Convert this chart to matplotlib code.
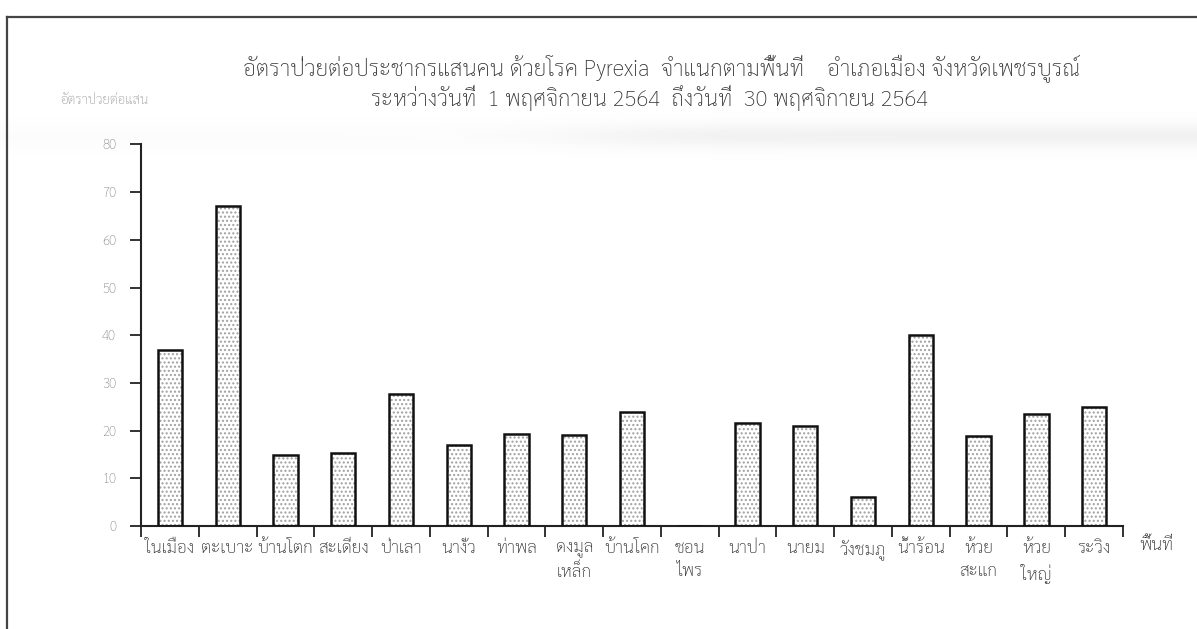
import matplotlib
matplotlib.use("Agg")
import matplotlib.pyplot as plt
import numpy as np
from matplotlib.lines import Line2D

plt.rcParams['font.family'] = ['Sarabun', 'DejaVu Sans']
plt.rcParams['font.weight'] = 'light'

# อัตราป่วยต่อประชากรแสนคน แยกตามตำบล อ.เมืองเพชรบูรณ์
areas = ["ในเมือง", "ตะเบาะ", "บ้านโตก", "สะเดียง", "ป่าเลา", "นางั่ว", "ท่าพล",
         "ดงมูล\nเหล็ก", "บ้านโคก", "ชอน\nไพร", "นาป่า", "นายม", "วังชมภู",
         "น้ำร้อน", "ห้วย\nสะแก", "ห้วย\nใหญ่", "ระวิง"]
rates = [36.8, 67.0, 14.8, 15.3, 27.6, 16.9, 19.3, 19.0, 24.0, 0.0,
         21.5, 21.0, 6.0, 40.1, 18.9, 23.4, 24.9]
yticks = [0, 10, 20, 30, 40, 50, 60, 70, 80]

title1 = "อัตราป่วยต่อประชากรแสนคน ด้วยโรค Pyrexia  จำแนกตามพื้นที่    อำเภอเมือง จังหวัดเพชรบูรณ์"
title2 = "ระหว่างวันที่  1 พฤศจิกายน 2564  ถึงวันที่  30 พฤศจิกายน 2564"

fig = plt.figure(figsize=(11.97, 6.29), dpi=100)

# faint scanner smear across the upper part of the page
haze = fig.add_axes([0, 0, 1, 1], zorder=-5)
hx = np.linspace(0, 1, 400)
hy = np.linspace(0, 1, 300)
HX, HY = np.meshgrid(hx, hy)
band = np.exp(-((HY - 0.785) / 0.02) ** 2) * (0.2 + 0.8 / (1 + np.exp(-(HX - 0.5) / 0.04)))
haze.imshow(band, cmap="Greys", vmin=0, vmax=9, extent=[0, 1, 0, 1],
            origin="lower", aspect="auto", interpolation="bilinear")
haze.set_axis_off()

ax = fig.add_axes([0.1178, 0.1638, 0.8204, 0.6066])
ax.set_facecolor("none")
x = np.arange(len(areas))
# stippled fill, then the black outline on top
ax.bar(x, rates, width=0.42, color="white", hatch="....", edgecolor="#a0a0a0",
       linewidth=0, zorder=2)
ax.bar(x, rates, width=0.42, fill=False, edgecolor="#111111", linewidth=1.8, zorder=3)

ax.set_xlim(-0.5, len(areas) - 0.5)
ax.set_ylim(0, 80)
ax.set_yticks(yticks)
ax.set_yticklabels([str(v) for v in yticks], color="#8a8a8a", fontsize=9.5)
ax.set_xticks(x)
ax.set_xticklabels(areas, fontsize=12.5, color="#2a2a2a", linespacing=1.45)
ax.set_xticks(np.arange(len(areas) + 1) - 0.5, minor=True)
ax.tick_params(axis="x", which="major", length=0, pad=10)
ax.tick_params(axis="x", which="minor", length=8, width=1.3, color="#222222", direction="out")
ax.tick_params(axis="y", length=8, width=1.3, color="#222222", pad=10)
for side in ("top", "right"):
    ax.spines[side].set_visible(False)
for side in ("left", "bottom"):
    ax.spines[side].set_linewidth(1.5)
    ax.spines[side].set_color("#222222")

fig.text(0.5525, 0.892, title1, ha="center", va="center", fontsize=16.3, color="#333333")
fig.text(0.543, 0.844, title2, ha="center", va="center", fontsize=16, color="#333333")
fig.text(0.05, 0.841, "อัตราป่วยต่อแสน", ha="left", va="center", fontsize=9.5, color="#9a9a9a")
fig.text(0.952, 0.133, "พื้นที่", ha="left", va="center", fontsize=12.5, color="#2a2a2a")

# page frame
fig.add_artist(Line2D([0.006, 1.0], [0.973, 0.973], color="#444444", lw=1.6))
fig.add_artist(Line2D([0.006, 0.006], [0.0, 0.973], color="#444444", lw=1.6))

fig.savefig("out.png", dpi=100)
